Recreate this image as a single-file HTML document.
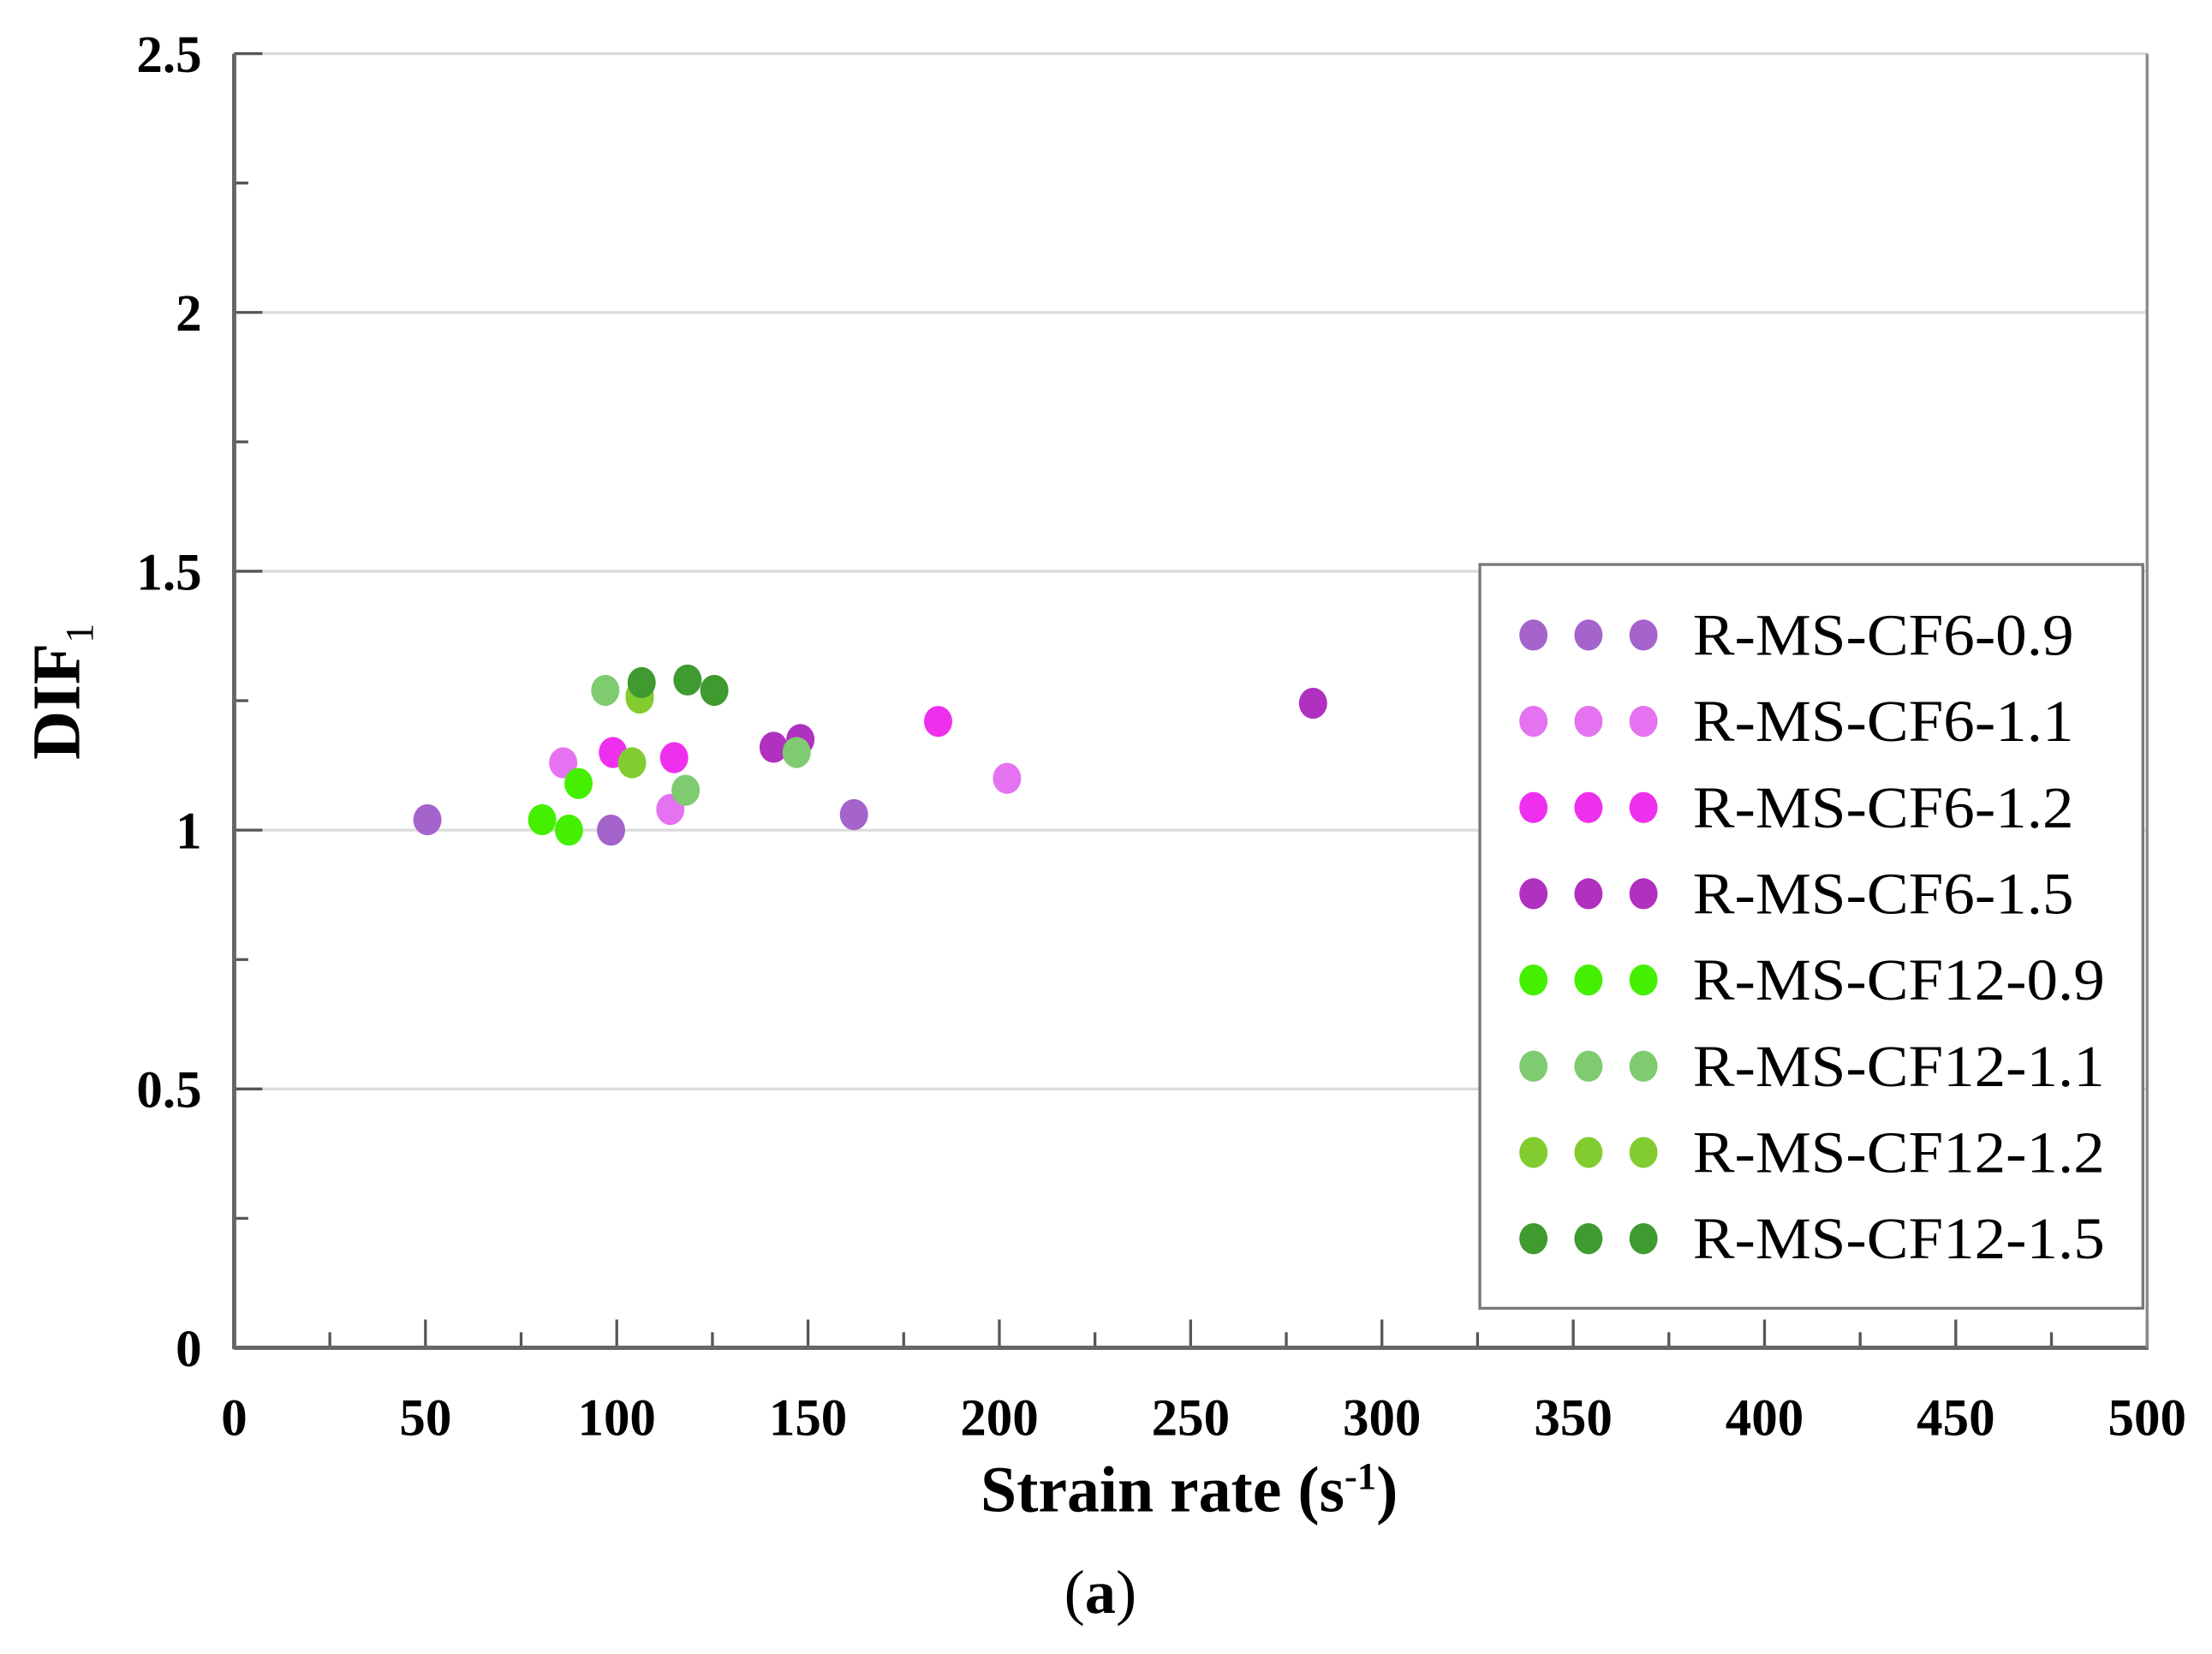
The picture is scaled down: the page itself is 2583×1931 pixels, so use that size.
<!DOCTYPE html>
<html><head><meta charset="utf-8"><style>
html,body{margin:0;padding:0;background:#fff;width:2583px;height:1931px;overflow:hidden}
svg{display:block}
text{font-family:"Liberation Serif",serif}
</style></head><body>
<svg id="chart" width="2583" height="1931" viewBox="0 0 1568 1172" preserveAspectRatio="none" xmlns="http://www.w3.org/2000/svg">
<g id="grid"></g>
<g id="axes"></g>
<g id="points"></g>
<g id="legend"></g>
<text x="843" y="1071" text-anchor="middle" font-size="46" font-weight="bold">Strain rate (s<tspan dy="-16" font-size="27">-1</tspan><tspan dy="16">)</tspan></text>
<text transform="translate(56,490) rotate(-90)" text-anchor="middle" font-size="48" font-weight="bold">DIF<tspan dy="10" font-size="28" font-weight="normal">1</tspan></text>
<text x="780" y="1143" text-anchor="middle" font-size="44">(<tspan font-weight="bold">a</tspan>)</text>
</svg>
<script>
const seriesNames = ["R-MS-CF6-0.9","R-MS-CF6-1.1","R-MS-CF6-1.2","R-MS-CF6-1.5","R-MS-CF12-0.9","R-MS-CF12-1.1","R-MS-CF12-1.2","R-MS-CF12-1.5"];
const seriesColors = ["#a563cc","#e572f0","#ee30ee","#b030c0","#44f000","#7ecb70","#82cc30","#3f9a30"];
const xCF6_09 = [50.5, 98.5, 162];   const yCF6_09 = [1.02, 1.00, 1.03];
const xCF6_11 = [86, 114, 202];      const yCF6_11 = [1.13, 1.04, 1.10];
const xCF6_12 = [99, 115, 184];      const yCF6_12 = [1.15, 1.14, 1.21];
const xCF6_15 = [141, 148, 282];     const yCF6_15 = [1.16, 1.175, 1.245];
const xCF12_09 = [80.5, 87.5, 90];   const yCF12_09 = [1.02, 1.00, 1.09];
const xCF12_12 = [104, 106, 106];    const yCF12_12 = [1.13, 1.255, 1.26];
const xCF12_11 = [97, 118, 147];     const yCF12_11 = [1.27, 1.077, 1.15];
const xCF12_15 = [106.5, 118.5, 125.5]; const yCF12_15 = [1.285, 1.29, 1.27];
const xTicks = [0,50,100,150,200,250,300,350,400,450,500];
const yTicks = [0,0.5,1,1.5,2,2.5];
const yTickLabels = ["0","0.5","1","1.5","2","2.5"];

const NS="http://www.w3.org/2000/svg";
const L=166,R=1522,T=38,B=955;
const xs=v=>L+(v-0)/(500-0)*(R-L);
const ys=v=>B-(v-0)/(2.5-0)*(B-T);
function mk(tag,parent,attrs){const e=document.createElementNS(NS,tag);for(const k in attrs)e.setAttribute(k,attrs[k]);parent.appendChild(e);return e;}
const grid=document.getElementById('grid'),axes=document.getElementById('axes'),pts=document.getElementById('points'),leg=document.getElementById('legend');

yTicks.forEach((v,i)=>{
  if(v>0){const g=mk('line',grid,{x1:L,x2:R,y1:ys(v),y2:ys(v),stroke:'#dcdcdc','stroke-width':2});
  
  }
  const t=mk('line',axes,{x1:L,x2:L+20,y1:ys(v),y2:ys(v),stroke:'#555','stroke-width':2});
  
  
  if(i<yTicks.length-1){const m=mk('line',axes,{x1:L,x2:L+10,y1:ys(v+0.25),y2:ys(v+0.25),stroke:'#555','stroke-width':2});
  
  }
  const lb=mk('text',axes,{x:143,y:ys(v)+13,'text-anchor':'end','font-size':37,'font-weight':'bold'});
  lb.textContent=yTickLabels[i];
  
  
});
xTicks.forEach((v,i)=>{
  const t=mk('line',axes,{x1:xs(v),x2:xs(v),y1:B,y2:B-20,stroke:'#555','stroke-width':2});
  
  
  if(i<xTicks.length-1){const m=mk('line',axes,{x1:xs(v+25),x2:xs(v+25),y1:B,y2:B-11,stroke:'#555','stroke-width':2});
  
  }
  const lb=mk('text',axes,{x:xs(v),y:1017,'text-anchor':'middle','font-size':37,'font-weight':'bold'});
  lb.textContent=String(v);
  
  
});
const la=mk('line',axes,{x1:L,x2:L,y1:T,y2:B+1,stroke:'#666','stroke-width':3});


const ba=mk('line',axes,{x1:L,x2:R+1,y1:B,y2:B,stroke:'#666','stroke-width':3});


const ra=mk('line',axes,{x1:R,x2:R,y1:T,y2:B,stroke:'#888','stroke-width':2});



const data=[[xCF6_09,yCF6_09],[xCF6_11,yCF6_11],[xCF6_12,yCF6_12],[xCF6_15,yCF6_15],[xCF12_09,yCF12_09],[xCF12_12,yCF12_12,6],[xCF12_11,yCF12_11,5],[xCF12_15,yCF12_15]];
data.forEach((d,si)=>{
  const ci = d[2]!==undefined?d[2]:si;
  d[0].forEach((xv,j)=>{
    const c=mk('ellipse',pts,{cx:xs(xv),cy:ys(d[1][j]),rx:10,ry:11,fill:seriesColors[ci]});
    
    
  });
});

const box=mk('rect',leg,{x:1049,y:400,width:470,height:527,fill:'#fff',stroke:'#777','stroke-width':2});


seriesNames.forEach((n,i)=>{
  const y=450+i*61.1;
  const g=mk('g',leg,{});
  
  
  [1087,1126,1165].forEach(x=>{
    const d=mk('ellipse',g,{cx:x,cy:y,rx:10,ry:11,fill:seriesColors[i]});
    
    
  });
  const t=mk('text',g,{x:1200,y:y+14,'font-size':42,textLength:n.length>12?292:270,lengthAdjust:'spacingAndGlyphs'});
  t.textContent=n;
  
  
});
</script>
</body></html>
